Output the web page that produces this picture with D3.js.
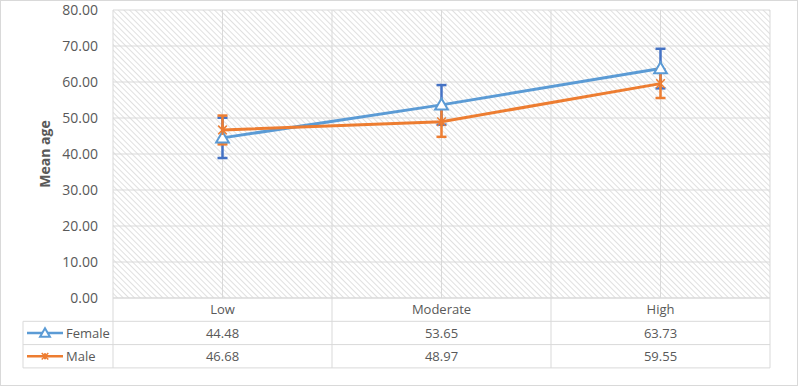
<!DOCTYPE html>
<html>
<head>
<meta charset="utf-8">
<script src="https://cdn.jsdelivr.net/npm/d3@7"></script>
<style>
  body { margin: 0; background: #fff; }
  text { font-family: "Open Sans", "Noto Sans", sans-serif; fill: #595959; }
</style>
</head>
<body>
<div id="chart"></div>
<script>
// data
var categories = ["Low", "Moderate", "High"]
var seriesNames = ["Female", "Male"]
var femaleMean = [44.48, 53.65, 63.73]
var maleMean = [46.68, 48.97, 59.55]
var femaleSD = [5.6, 5.5, 5.5]
var maleSD = [4.0, 4.2, 4.0]
var yTicks = [0, 10, 20, 30, 40, 50, 60, 70, 80]

var W = 800, H = 388
var plot = { left: 113, right: 770, top: 10, bottom: 298 }
var rowH = 23.3

var series = [
  { name: seriesNames[0], mean: femaleMean, sd: femaleSD, color: "#5B9BD5", errColor: "#4472C4", marker: "tri" },
  { name: seriesNames[1], mean: maleMean, sd: maleSD, color: "#ED7D31", errColor: "#ED7D31", marker: "star" }
]

var svg = d3.select("#chart").append("svg")
    .attr("width", W)
    .attr("height", H)

// hatch pattern (lines running top-left to bottom-right)
var defs = svg.append("defs")
var pat = defs.append("pattern")
    .attr("id", "hatch")
    .attr("patternUnits", "userSpaceOnUse")
    .attr("width", 4).attr("height", 4)
    .attr("patternTransform", "rotate(-45)")
pat.append("rect").attr("width", 4).attr("height", 4).attr("fill", "#fff")
pat.append("line")
    .attr("x1", 0).attr("y1", 0).attr("x2", 0).attr("y2", 4)
    .attr("stroke", "#d6d6d6").attr("stroke-width", 1.5)

// outer frame
svg.append("rect")
    .attr("x", 0.5).attr("y", 0.5)
    .attr("width", W - 3).attr("height", H - 3)
    .attr("fill", "#fff").attr("stroke", "#d9d9d9")

var x = d3.scaleBand()
    .domain(categories)
    .range([plot.left, plot.right])

var y = d3.scaleLinear()
    .domain([0, 80])
    .range([plot.bottom, plot.top])

// plot background
svg.append("rect")
    .attr("x", plot.left).attr("y", plot.top)
    .attr("width", plot.right - plot.left).attr("height", plot.bottom - plot.top)
    .attr("fill", "url(#hatch)")

// gridlines
svg.append("g")
  .selectAll("line")
  .data(yTicks)
  .enter()
  .append("line")
    .attr("x1", plot.left).attr("x2", plot.right)
    .attr("y1", function (d) { return y(d) }).attr("y2", function (d) { return y(d) })
    .attr("stroke", "#d9d9d9")

var vLines = []
categories.forEach(function (c) {
  vLines.push(x(c))
  vLines.push(x(c) + x.bandwidth() / 2)
})
vLines.push(plot.right)
svg.append("g")
  .selectAll("line")
  .data(vLines)
  .enter()
  .append("line")
    .attr("x1", function (d) { return d }).attr("x2", function (d) { return d })
    .attr("y1", plot.top).attr("y2", plot.bottom)
    .attr("stroke", "#d9d9d9")

// y axis labels
var yAxis = svg.append("g")
    .attr("transform", "translate(" + (plot.left - 15) + ",0)")
    .call(d3.axisLeft(y).tickValues(yTicks).tickSize(0).tickFormat(d3.format(".2f")))
yAxis.select(".domain").remove()
yAxis.selectAll("text")
    .style("font-size", "14px")
    .attr("fill", "#595959")
    .attr("x", 0)

svg.append("text")
    .attr("transform", "translate(50," + (plot.top + plot.bottom) / 2 + ") rotate(-90)")
    .attr("text-anchor", "middle")
    .style("font-size", "14px")
    .style("font-weight", "bold")
    .text("Mean age")

// data table
var tableLeft = 23
var tb = plot.bottom
var tableG = svg.append("g")
var hl = [tb, tb + rowH, tb + 2 * rowH, tb + 3 * rowH]
hl.forEach(function (yy, i) {
  tableG.append("line")
    .attr("x1", i === 0 ? plot.left : tableLeft).attr("x2", plot.right)
    .attr("y1", yy).attr("y2", yy)
    .attr("stroke", "#d9d9d9")
})
tableG.append("line")
    .attr("x1", tableLeft).attr("x2", tableLeft)
    .attr("y1", tb + rowH).attr("y2", tb + 3 * rowH)
    .attr("stroke", "#d9d9d9")
categories.forEach(function (c) {
  tableG.append("line")
    .attr("x1", x(c)).attr("x2", x(c))
    .attr("y1", tb).attr("y2", tb + 3 * rowH)
    .attr("stroke", "#d9d9d9")
})
tableG.append("line")
    .attr("x1", plot.right).attr("x2", plot.right)
    .attr("y1", tb).attr("y2", tb + 3 * rowH)
    .attr("stroke", "#d9d9d9")

tableG.selectAll(".cat")
  .data(categories)
  .enter()
  .append("text")
    .attr("x", function (d) { return x(d) + x.bandwidth() / 2 })
    .attr("y", tb + rowH / 2)
    .attr("dy", "0.35em")
    .attr("text-anchor", "middle")
    .style("font-size", "13px")
    .text(function (d) { return d })

function drawMarker(g, type, cx, cy, color, sz) {
  sz = sz || 1
  if (type === "tri") {
    g.append("path")
      .attr("d", d3.symbol().type(d3.symbolTriangle).size(70 * sz)())
      .attr("transform", "translate(" + cx + "," + (cy + 1) + ")")
      .attr("fill", "#fff").attr("stroke", color).attr("stroke-width", 2)
  } else {
    g.append("path")
      .attr("d", d3.symbol().type(d3.symbolTimes).size(50 * sz)())
      .attr("transform", "translate(" + cx + "," + cy + ")")
      .attr("fill", color).attr("stroke", color).attr("stroke-width", 1.5)
    g.append("line")
      .attr("x1", cx).attr("x2", cx).attr("y1", cy - 5 * sz).attr("y2", cy + 5 * sz)
      .attr("stroke", color).attr("stroke-width", 2)
  }
}

series.forEach(function (s, i) {
  var ry = tb + rowH * (i + 1)
  tableG.selectAll(".val" + i)
    .data(s.mean)
    .enter()
    .append("text")
      .attr("x", function (d, j) { return x(categories[j]) + x.bandwidth() / 2 })
      .attr("y", ry + rowH / 2)
      .attr("dy", "0.35em")
      .attr("text-anchor", "middle")
      .style("font-size", "13px")
      .text(function (d) { return d3.format(".2f")(d) })
  tableG.append("line")
      .attr("x1", 27).attr("x2", 63)
      .attr("y1", ry + rowH / 2).attr("y2", ry + rowH / 2)
      .attr("stroke", s.color).attr("stroke-width", 2.5)
  drawMarker(tableG, s.marker, 45, ry + rowH / 2, s.color, 0.6)
  tableG.append("text")
      .attr("x", 66)
      .attr("y", ry + rowH / 2)
      .attr("dy", "0.35em")
      .style("font-size", "13px")
      .text(s.name)
})

// lines, error bars, markers
var line = d3.line()
    .x(function (d, j) { return x(categories[j]) + x.bandwidth() / 2 })
    .y(function (d) { return y(d) })

series.forEach(function (s) {
  var g = svg.append("g")
  g.append("path")
      .datum(s.mean)
      .attr("d", line)
      .attr("fill", "none")
      .attr("stroke", s.color)
      .attr("stroke-width", 3)
  s.mean.forEach(function (m, j) {
    var cx = x(categories[j]) + x.bandwidth() / 2
    g.append("line")
        .attr("x1", cx).attr("x2", cx)
        .attr("y1", y(m - s.sd[j])).attr("y2", y(m + s.sd[j]))
        .attr("stroke", s.errColor).attr("stroke-width", 2.5)
    ;[m - s.sd[j], m + s.sd[j]].forEach(function (v) {
      g.append("line")
          .attr("x1", cx - 5).attr("x2", cx + 5)
          .attr("y1", y(v)).attr("y2", y(v))
          .attr("stroke", s.errColor).attr("stroke-width", 2.5)
    })
  })
})
series.forEach(function (s) {
  var g = svg.append("g")
  s.mean.forEach(function (m, j) {
    drawMarker(g, s.marker, x(categories[j]) + x.bandwidth() / 2, y(m), s.color)
  })
})
</script>
</body>
</html>
